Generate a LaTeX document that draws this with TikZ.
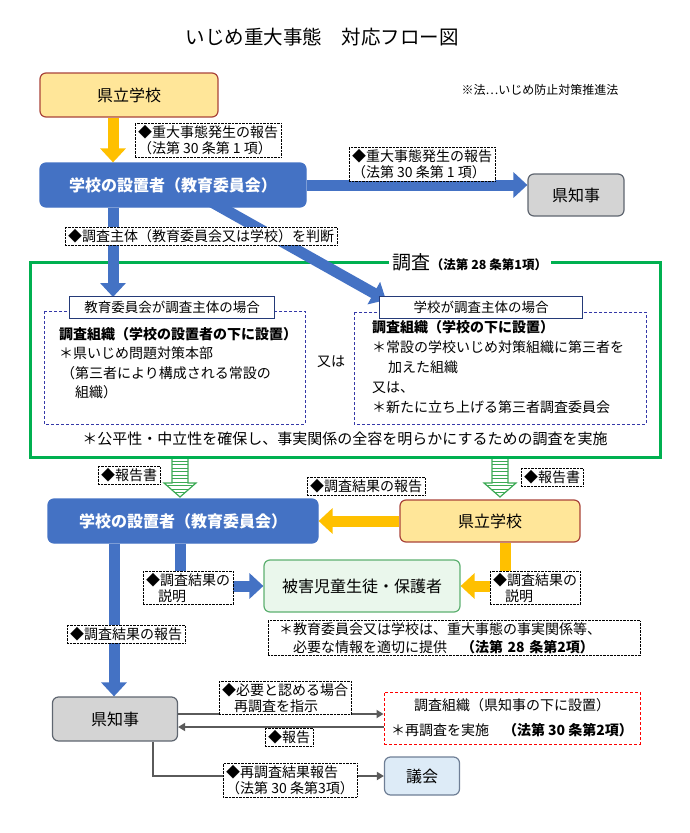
\documentclass[tikz,border=0pt]{standalone}
\usepackage{fontspec}
\setmainfont{Noto Sans CJK JP}
\usetikzlibrary{arrows.meta,calc}
\definecolor{cblue}{HTML}{4472C4}
\definecolor{cyel}{HTML}{FFE699}
\definecolor{cyelb}{HTML}{A9443A}
\definecolor{corange}{HTML}{FFC000}
\definecolor{cgreen}{HTML}{00B050}
\definecolor{chatch}{HTML}{3DAA55}
\definecolor{cdash}{HTML}{3438A8}
\definecolor{chead}{HTML}{243A78}
\definecolor{cgray}{HTML}{D4D4D4}
\definecolor{cgrayb}{HTML}{5F6670}
\definecolor{cvict}{HTML}{EAF7EC}
\definecolor{cvictb}{HTML}{5DB070}
\definecolor{cgikai}{HTML}{DDEBF7}
\definecolor{cgikaib}{HTML}{6F7F96}
\definecolor{cdark}{HTML}{5A5A5A}
\newcommand\jfs[2]{\fontsize{#1}{#2}\selectfont}
\pgfdeclarelayer{bg}
\pgfsetlayers{bg,main}
\tikzset{
  box/.style={rounded corners=6pt, line width=1.2pt, inner sep=0pt},
  ybox/.style={box, fill=cyel, draw=cyelb, font=\jfs{16}{18}},
  bbox/.style={box, fill=cblue, draw=cblue, text=white, font=\jfs{16}{18}\bfseries},
  gbox/.style={box, fill=cgray, draw=cgrayb, font=\jfs{16}{18}},
  lbl/.style={draw=black, densely dotted, fill=white, inner xsep=3pt, inner ysep=2pt, align=left, font=\jfs{14}{16}},
  headbox/.style={draw=chead, line width=0.9pt, fill=white, inner sep=0pt, font=\jfs{13.5}{15}},
  dbox/.style={draw=cdash, densely dashed, line width=1pt},
  fatb/.style={line width=11pt, draw=cblue, -{Triangle[width=25pt,length=14pt]}},
  faty/.style={line width=11pt, draw=corange, -{Triangle[width=25pt,length=14pt]}},
  thin/.style={line width=2.5pt, draw=cdark, -{Triangle[width=8pt,length=7pt]}},
  hatcharrow/.pic={
    \path[fill=white] (-8,0) -- (-8,24) -- (-16,24) -- (0,38) -- (16,24) -- (8,24) -- (8,0) -- cycle;
    \begin{scope}
      \clip (-8,0) -- (-8,24) -- (-16,24) -- (0,38) -- (16,24) -- (8,24) -- (8,0) -- cycle;
      \foreach \yy in {2,5.5,...,37} \draw[chatch, line width=0.9pt] (-16,\yy) -- (16,\yy);
    \end{scope}
    \draw[chatch, line width=1.2pt, line join=miter] (-8,0) -- (-8,24) -- (-16,24) -- (0,38) -- (16,24) -- (8,24) -- (8,0);
  }
}
\begin{document}
\begin{tikzpicture}[x=1pt,y=-1pt]
\useasboundingbox (0,0) rectangle (690,833);

% title and note
\node[font=\jfs{19.5}{21}] (title) at (322,37) {いじめ重大事態　対応フロー図};
\node[font=\jfs{12}{14}] (note) at (540,90) {※法…いじめ防止対策推進法};

% main boxes
\node[ybox, minimum width=178pt, minimum height=44pt] (school1) at (129,95) {県立学校};
\node[bbox, minimum width=266pt, minimum height=44pt] (board1) at (173,185) {学校の設置者（教育委員会）};
\node[gbox, minimum width=96pt, minimum height=42pt] (gov1) at (576,195) {県知事};

\node[bbox, minimum width=270pt, minimum height=44pt] (board2) at (183,521) {学校の設置者（教育委員会）};
\node[ybox, minimum width=180pt, minimum height=42pt] (school2) at (490,521) {県立学校};
\node[box, fill=cvict, draw=cvictb, minimum width=196pt, minimum height=52pt, font=\jfs{16}{18}] (victim) at (362,586) {被害児童生徒・保護者};
\node[gbox, minimum width=125pt, minimum height=44pt] (gov2) at (115,719) {県知事};
\node[draw=red, densely dashed, line width=1pt, minimum width=256pt, minimum height=52pt, align=center, font=\jfs{14}{25}] (reinv) at (512,718)
  {調査組織（県知事の下に設置）\\＊再調査を実施　{\bfseries（法第 30 条第2項）}};
\node[box, fill=cgikai, draw=cgikaib, minimum width=75pt, minimum height=38pt, font=\jfs{16}{18}] (gikai) at (422,776) {議会};

% coordinates
\coordinate (invL) at (113,297);
\coordinate (invR) at (386,300);
\coordinate (diagS) at (208,200);

\begin{pgfonlayer}{bg}
  \draw[cgreen, line width=3pt] (30,262) rectangle (660,457);
  \draw[faty] (school1.south -| 113,0) -- (board1.north -| 113,0);
  \draw[fatb] (board1.east) -- (gov1.west |- board1.east);
  \draw[fatb] (board1.south -| invL) -- (invL);
  \draw[fatb] (diagS) -- (invR);
  \draw[faty] (school2.west) -- (board2.east);
  \draw[faty, line join=miter] (school2.south -| 505,0) |- (victim.east);
  \draw[fatb, line join=miter] (board2.south -| 180,0) |- (victim.west);
  \draw[fatb] (board2.south -| 114,0) -- (gov2.north -| 114,0);
  \draw[thin] ($(gov2.east)+(0,-5)$) -- ($(reinv.west)+(0,-4)$);
  \draw[thin] ($(reinv.west)+(0,9)$) -- ($(gov2.east)+(0,8)$);
  \draw[thin, line join=miter] (gov2.south -| 153,0) |- (gikai.west);
\end{pgfonlayer}

% investigation frame content
\node[fill=white, inner xsep=4pt, inner ysep=0pt] (chosa) at (470,262) {{\jfs{19}{20}調査}{\jfs{12.5}{14}\bfseries（法第 28 条第1項）}};
\draw[dbox] (44,311) rectangle (305,424);
\draw[dbox] (354,312) rectangle (646,424);
\node[headbox, minimum width=205pt, minimum height=22pt] (headL) at (172,307) {教育委員会が調査主体の場合};
\node[headbox, minimum width=203pt, minimum height=22pt] (headR) at (481,307) {学校が調査主体の場合};
\node[anchor=north west, align=left, inner sep=0pt, font=\jfs{14}{19.5}] (txtL) at (59,327)
  {{\bfseries 調査組織（学校の設置者の下に設置）}\\＊県いじめ問題対策本部\\\hspace{2pt}（第三者により構成される常設の\\\hspace{16pt}組織）};
\node[font=\jfs{14}{16}] (mata) at (331,362) {又は};
\node[anchor=north west, align=left, inner sep=0pt, font=\jfs{14}{20}] (txtR) at (372,320)
  {{\bfseries 調査組織（学校の下に設置）}\\＊常設の学校いじめ対策組織に第三者を\\\hspace{16pt}加えた組織\\又は、\\＊新たに立ち上げる第三者調査委員会};
\node[font=\jfs{15}{17}] (fair) at (345,439) {＊公平性・中立性を確保し、事実関係の全容を明らかにするための調査を実施};

% hatched report arrows
\pic at (180,459) {hatcharrow};
\pic at (500,459) {hatcharrow};

% labels
\node[lbl] (l1) at (208,140) {◆重大事態発生の報告\\（法第 30 条第 1 項）};
\node[lbl] (l2) at (422,164) {◆重大事態発生の報告\\（法第 30 条第 1 項）};
\node[lbl] (l3) at (201,236) {◆調査主体（教育委員会又は学校）を判断};
\node[lbl] (l4) at (129,475) {◆報告書};
\node[lbl] (l5) at (552,477) {◆報告書};
\node[lbl] (l6) at (366,486) {◆調査結果の報告};
\node[lbl] (l7) at (188,588) {◆調査結果の\\\hspace{12pt}説明};
\node[lbl] (l8) at (535,588) {◆調査結果の\\\hspace{12pt}説明};
\node[lbl] (l9) at (126,634) {◆調査結果の報告};
\node[lbl, font=\jfs{14}{18}, inner xsep=11pt, text width=350pt] (l10) at (454,638) {＊教育委員会又は学校は、重大事態の事実関係等、\\\hspace{14pt}必要な情報を適切に提供　{\bfseries（法第 28 条第2項）}};
\node[lbl] (l11) at (285,698) {◆必要と認める場合\\\hspace{12pt}再調査を指示};
\node[lbl] (l12) at (289,737) {◆報告};
\node[lbl] (l13) at (290,780) {◆再調査結果報告\\（法第 30 条第3項）};
\end{tikzpicture}
\end{document}
